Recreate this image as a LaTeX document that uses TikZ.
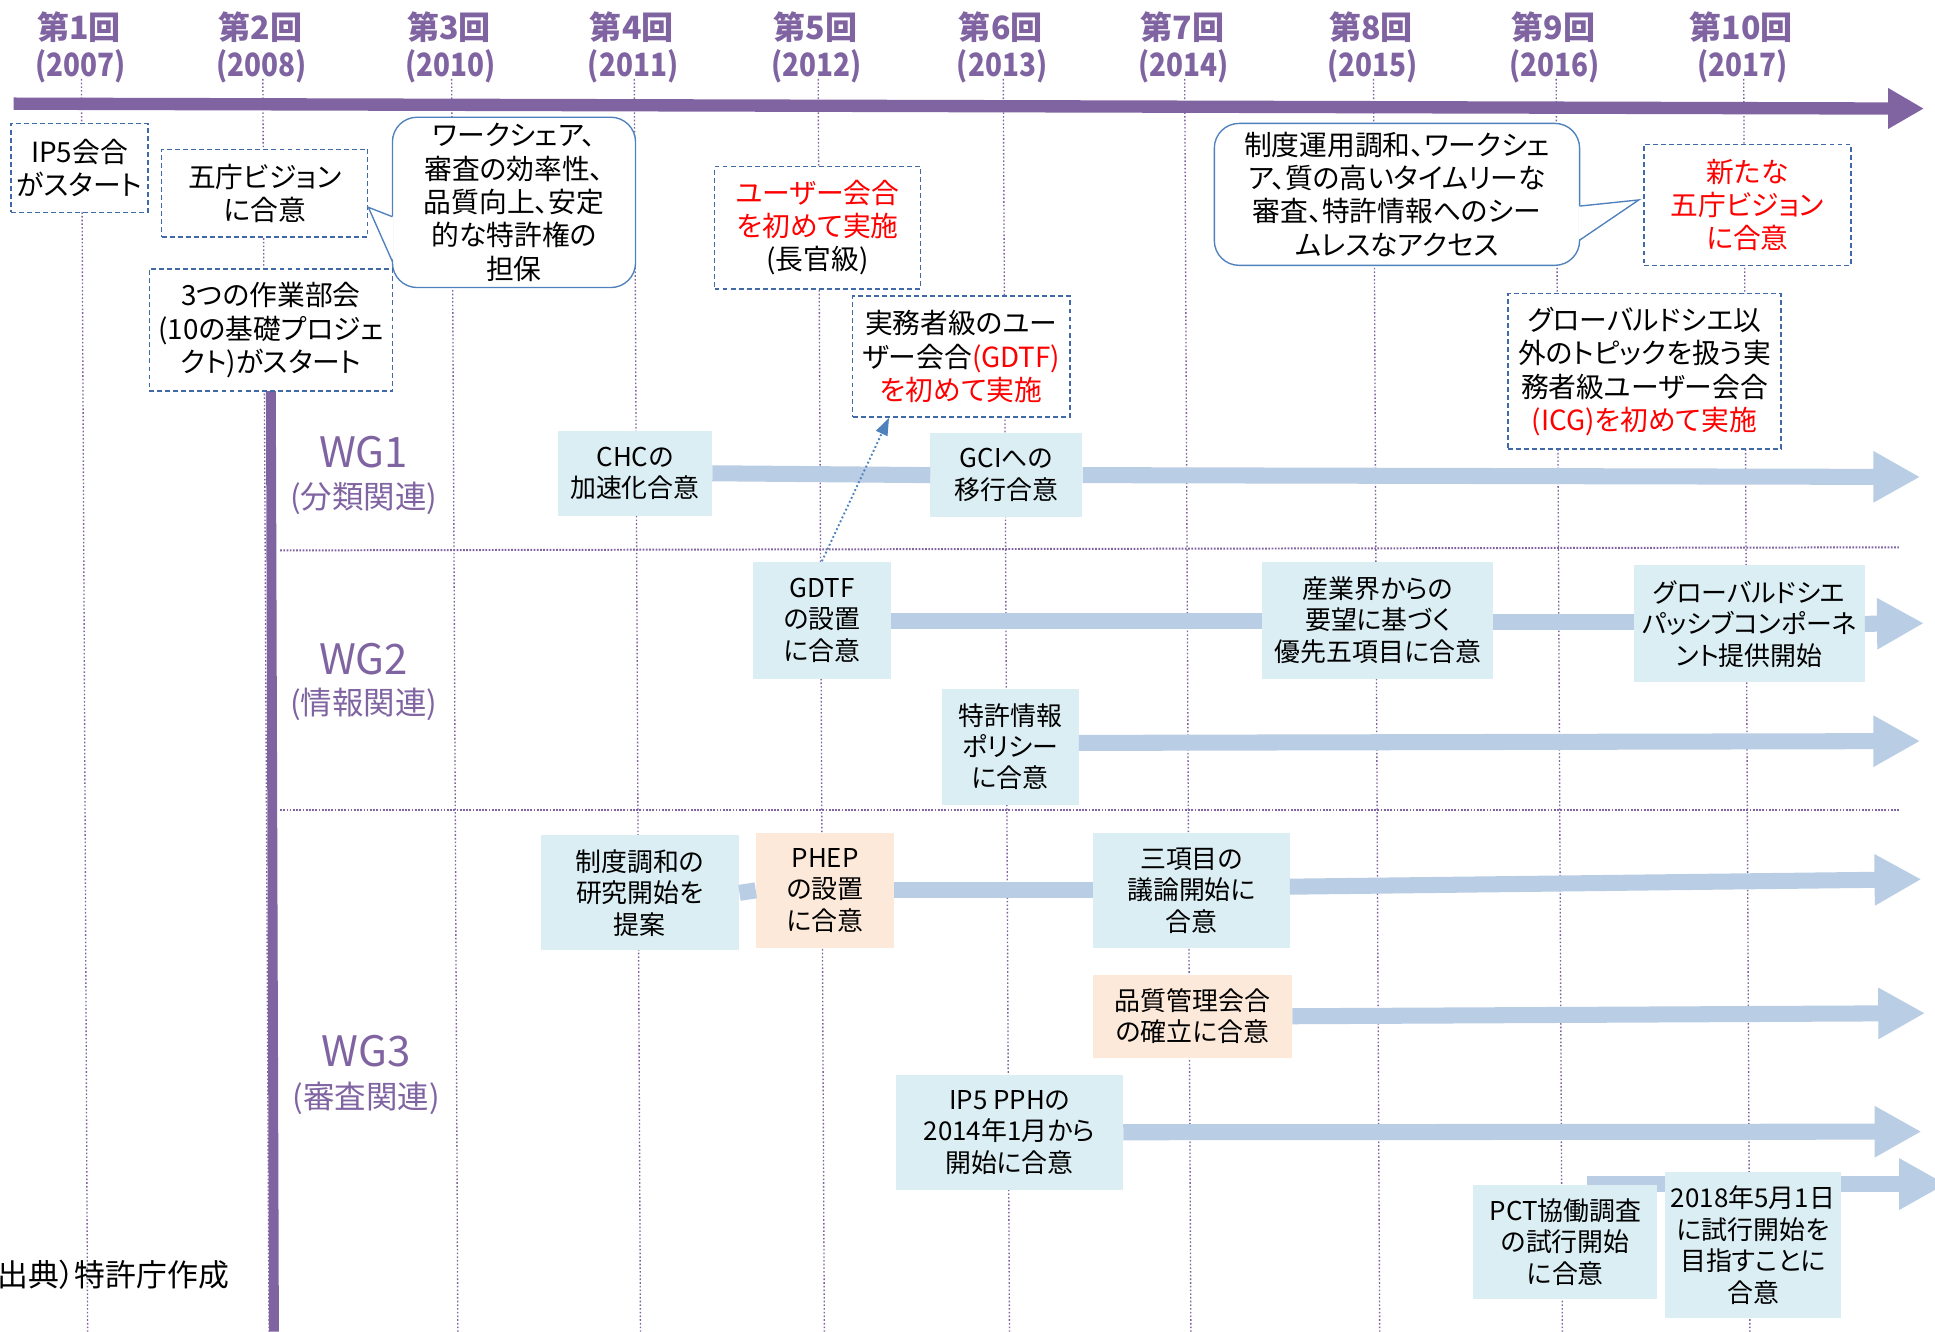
\documentclass[tikz,border=0pt]{standalone}
\usepackage{fontspec}
\usepackage{graphicx}
\setmainfont{Noto Sans CJK JP}
\newfontfamily\pfont{Noto Sans CJK JP}[RawFeature=+palt]
\usetikzlibrary{arrows.meta}
\definecolor{wgpurple}{RGB}{128,100,162}
\definecolor{boxblue}{RGB}{219,238,244}
\definecolor{boxpeach}{RGB}{253,233,217}
\definecolor{barblue}{RGB}{185,205,229}
\definecolor{dashblue}{RGB}{65,105,165}
\definecolor{bubbleblue}{RGB}{79,129,189}
\begin{document}
\begin{tikzpicture}[x=1pt,y=-1pt,
  txt/.style={font=\pfont\fontsize{21}{25.5}\selectfont, align=center, inner sep=0pt, text=black},
  midbox/.style={txt, fill=boxblue},
  peachbox/.style={midbox, fill=boxpeach},
  topbox/.style={txt, font=\pfont\fontsize{22.5}{27}\selectfont, draw=dashblue, fill=white, line width=1.2pt, dash pattern=on 4pt off 2.5pt},
  bubblebox/.style={txt, font=\pfont\fontsize{22.5}{27}\selectfont, draw=bubbleblue, fill=white, line width=1.1pt, rounded corners=20pt},
  header/.style={font=\fontsize{26}{26}\selectfont\bfseries, text=wgpurple, inner sep=0pt},
  wglab/.style={font=\fontsize{34}{34}\selectfont, text=wgpurple, inner sep=0pt},
  wgsub/.style={font=\fontsize{25.5}{25.5}\selectfont, text=wgpurple, inner sep=0pt},
  vline/.style={wgpurple, line width=1.1pt, dash pattern=on 1.3pt off 1.7pt},
  hline/.style={wgpurple, line width=1.6pt, dash pattern=on 1.4pt off 1.2pt},
  bar/.style={barblue, line width=13pt},
  bararrow/.style={bar, -{Triangle[width=39pt,length=38pt]}},
  axisarrow/.style={wgpurple, line width=10pt, -{Triangle[width=31pt,length=29pt]}},
  dotarrow/.style={bubbleblue, line width=1.5pt, dash pattern=on 1.5pt off 2pt, -{Triangle[width=10pt,length=14pt]}},
  tail/.style={bubbleblue, line width=1.1pt}
]
\useasboundingbox (0,0) rectangle (1568,1079);
\clip (0,0) rectangle (1568,1079);
\fill[white] (0,0) rectangle (1568,1079);

% year guides and headers
\foreach \x/\nn/\yr in {66/1/2007, 213/2/2008, 366/3/2010, 514/4/2011, 663/5/2012, 813/6/2013, 960/7/2014, 1113/8/2015, 1261/9/2016, 1413/10/2017} {
  \draw[vline] (\x,64) -- (\x+5,1079);
  \node[header] (h\nn) at (\x-2,22.3) {第{\nn}回};
  \node[header] (y\nn) at (\x-1,54) {\scalebox{0.87}[1]{(\yr)}};
}

% separators
\coordinate (s1a) at (227,446);
\coordinate (s1b) at (1539,443.5);
\coordinate (s2a) at (227,656.5);
\coordinate (s2b) at (1539,656.5);
\draw[hline] (s1a) -- (s1b);
\draw[hline] (s2a) -- (s2b);

% time axis
\coordinate (axs) at (11,84);
\coordinate (axe) at (1559,88);
\draw[axisarrow] (axs) -- (axe);

% WG vertical bar
\coordinate (wgtop) at (219.5,317);
\coordinate (wgbot) at (222,1079);
\draw[wgpurple, line width=8pt] (wgtop) -- (wgbot);

% PCT bar (behind boxes)
\coordinate (pcts) at (1286,959.5);
\coordinate (pcte) at (1577,959.5);
\draw[bararrow] (pcts) -- (pcte);

% top boxes
\node[topbox, minimum width=111, minimum height=72] (ip5) at (64.5,136) {IP5会合\\がスタート};
\node[topbox, minimum width=167, minimum height=71] (gocho) at (214.5,156.5) {五庁ビジョン\\に合意};
\node[bubblebox, minimum width=197, minimum height=138] (bub1) at (416.5,164) {ワークシェア、\\審査の効率性、\\品質向上、安定\\的な特許権の\\担保};
\node[topbox, minimum width=167, minimum height=99] (user) at (662.5,184.5) {\textcolor{red}{ユーザー会合}\\\textcolor{red}{を初めて実施}\\(長官級)};
\node[topbox, minimum width=176, minimum height=98] (jitsumu) at (779,289) {実務者級のユー\\ザー会合\textcolor{red}{(GDTF)}\\\textcolor{red}{を初めて実施}};
\node[bubblebox, minimum width=296, minimum height=115] (bub2) at (1132,157.5) {制度運用調和、ワークシェ\\ア、質の高いタイムリーな\\審査、特許情報へのシー\\ムレスなアクセス};
\node[topbox, text=red, minimum width=168, minimum height=98] (newv) at (1416,166) {新たな\\五庁ビジョン\\に合意};
\node[topbox, minimum width=221, minimum height=126] (icg) at (1332.5,301) {グローバルドシエ以\\外のトピックを扱う実\\務者級ユーザー会合\\\textcolor{red}{(ICG)を初めて実施}};
\node[topbox, minimum width=197, minimum height=99] (wgs) at (219.5,267.5) {3つの作業部会\\(10の基礎プロジェ\\クト)がスタート};

% bubble tails
\fill[white] (298.5,168) -- (319,175.6) -- (319,212) -- cycle;
\draw[tail] (318,175.6) -- (298.5,168) -- (318,212);
\fill[white] (1328,162) -- (1279,167) -- (1279,194.6) -- cycle;
\draw[tail] (1280,167) -- (1328,162) -- (1280,194.6);

% WG labels
\node[wglab] (wg1) at (294.7,366) {WG1};
\node[wgsub] (wg1s) at (294.7,403.7) {(分類関連)};
\node[wglab] (wg2) at (294.7,534) {WG2};
\node[wgsub] (wg2s) at (294.7,571) {(情報関連)};
\node[wglab] (wg3) at (296.7,852) {WG3};
\node[wgsub] (wg3s) at (296.7,890) {(審査関連)};

% WG1
\node[midbox, minimum width=125, minimum height=69] (chc) at (514.5,383.5) {CHCの\\加速化合意};
\node[midbox, minimum width=123, minimum height=68] (gci) at (815.5,385) {GCIへの\\移行合意};
% WG2
\node[midbox, minimum width=112, minimum height=95] (gdtf) at (666,502.5) {GDTF\\の設置\\に合意};
\node[midbox, minimum width=187, minimum height=95] (sangyo) at (1116.5,502.5) {産業界からの\\要望に基づく\\優先五項目に合意};
\node[midbox, minimum width=187, minimum height=95] (gdpc) at (1417.5,505.5) {グローバルドシエ\\パッシブコンポーネ\\ント提供開始};
\node[midbox, minimum width=111, minimum height=94] (tokkyo) at (818.5,605) {特許情報\\ポリシー\\に合意};
% WG3
\node[midbox, minimum width=161, minimum height=93] (seido) at (518.5,723.5) {制度調和の\\研究開始を\\提案};
\node[peachbox, minimum width=112, minimum height=93] (phep) at (668.6,721.5) {PHEP\\の設置\\に合意};
\node[midbox, minimum width=159, minimum height=93] (sanko) at (965.5,721.5) {三項目の\\議論開始に\\合意};
\node[peachbox, minimum width=161, minimum height=67] (hinshitsu) at (966.5,823.5) {品質管理会合\\の確立に合意};
\node[midbox, minimum width=184, minimum height=93] (pph) at (818,917.5) {IP5 PPHの\\2014年1月から\\開始に合意};
\node[midbox, minimum width=149, minimum height=93] (pct) at (1268.5,1006.5) {PCT協働調査\\の試行開始\\に合意};
\node[midbox, minimum width=143, minimum height=118] (y2018) at (1420.5,1009) {2018年5月1日\\に試行開始を\\目指すことに\\合意};

% bars
\coordinate (e1) at (1556,386.5);
\coordinate (e2) at (1559,505);
\coordinate (e3) at (1556,600.5);
\coordinate (e4) at (1557,712.5);
\coordinate (e5) at (1560,821);
\coordinate (e6) at (1557,917);
\draw[bar] (chc.east) -- (gci.west);
\draw[bararrow] (gci.east) -- (e1);
\draw[bar] ([yshift=-1pt]gdtf.east) -- ([yshift=-1pt]sangyo.west);
\draw[bar] ([yshift=-1.5pt]sangyo.east) -- ([yshift=1.5pt]gdpc.west);
\draw[bararrow] (gdpc.east) -- (e2);
\draw[bararrow] ([yshift=3pt]tokkyo.east) -- (e3);
\draw[bar] (seido.east) -- (phep.west);
\draw[bar] (phep.east) -- (sanko.west);
\draw[bararrow] ([yshift=3pt]sanko.east) -- (e4);
\draw[bararrow] (hinshitsu.east) -- (e5);
\draw[bararrow] (pph.east) -- (e6);

% dotted link
\draw[dotarrow] (gdtf.north) -- ([xshift=30pt]jitsumu.south west);

% source note
\node[font=\pfont\fontsize{25}{25}\selectfont, anchor=west, inner sep=0pt] (src) at (-2,1033) {出典）特許庁作成};
\end{tikzpicture}
\end{document}
